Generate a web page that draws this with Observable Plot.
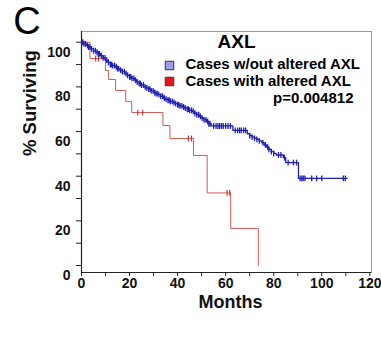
<!DOCTYPE html>
<html>
<head>
<meta charset="utf-8">
<script src="https://cdn.jsdelivr.net/npm/d3@7"></script>
<script src="https://cdn.jsdelivr.net/npm/@observablehq/plot@0.6"></script>
<style>
  html, body { margin: 0; padding: 0; background: #fff; }
  #chart svg { display: block; font-family: "Liberation Sans", Arial, Helvetica, sans-serif; }
</style>
</head>
<body>
<div id="chart"></div>
<script>
// ---- Data ----
const panelLetter = "C";
const geneName = "AXL";
const seriesNames = ["Cases w/out altered AXL", "Cases with altered AXL"];
const pValueText = "p=0.004812";
const xTitle = "Months";
const yTitle = "% Surviving";

// Cases without altered AXL (blue) — Kaplan–Meier step points
const blueMonths = [0, 1, 2, 3, 4, 5, 6, 7, 8, 9, 10, 11, 12, 13, 14, 15, 16, 17, 18, 19, 20, 21, 22, 23, 24, 25, 26, 27, 28, 29, 30, 31, 32, 33, 34, 35, 36, 37, 38, 39, 40, 41, 42, 43, 44, 45, 46, 47, 48, 49, 50, 51, 52, 53, 54, 63, 69, 70, 71, 72, 73, 74, 75, 76, 77, 78, 79, 80, 81, 84, 85, 90.3, 110.5];
const blueSurv   = [100, 99.3, 98.5, 97.8, 97, 96.2, 95.5, 94.8, 94, 93, 92, 91, 90, 89.5, 89, 88.2, 87.5, 86.8, 86, 85.2, 84.5, 83.8, 83, 82.2, 81.5, 80.8, 80, 79.5, 79, 78.2, 77.5, 77, 76.5, 75.8, 75, 74.5, 74, 73.5, 73, 72.5, 72, 71.5, 71, 70.5, 70, 69.5, 69, 68.2, 67.5, 66.8, 66, 65.2, 64.5, 63.5, 62.5, 60.5, 59, 58.2, 57.5, 57, 56.5, 55.8, 55, 54, 53, 52, 51, 50.2, 49.5, 48.3, 46.1, 39, 39];
const blueCensored = [0.5, 1, 1.7, 2.5, 3, 3.5, 4.2, 5, 5.8, 6.5, 7, 7.5, 8.3, 9, 9.8, 10.5, 11.2, 12, 12.5, 13, 13.8, 14.5, 15, 15.5, 16.3, 17, 17.8, 18.5, 19.2, 20, 20.5, 21, 21.8, 22.5, 23.2, 24, 24.5, 25, 25.8, 26.5, 27.2, 28, 28.5, 29, 29.8, 30.5, 31, 31.5, 32.2, 33, 33.8, 34.5, 35.2, 36, 36.5, 37, 37.8, 38.5, 39.2, 40, 40.5, 41, 41.8, 42.5, 43.2, 44, 44.5, 45, 45.8, 46.5, 47.2, 48, 48.8, 49.5, 50.2, 51, 51.8, 52.5, 53, 53.5, 55, 56, 56.8, 57.5, 58.3, 59, 60, 61, 62, 64, 65, 65.8, 66.5, 67.5, 68.3, 70, 71, 72, 73, 74, 75.5, 76.5, 77.5, 78, 79, 80, 82, 83, 84.5, 86, 88.2, 89.5, 91, 91.7, 92.3, 93, 95.8, 97.9, 100, 109, 109.8];

// Cases with altered AXL (red)
const redMonths = [0, 3.5, 10, 11.3, 14.2, 18.4, 20.9, 33.9, 36.8, 46.6, 52.3, 62.1, 73.6];
const redSurv   = [100, 92.7, 87.3, 83.3, 78.4, 73.4, 68.5, 62.7, 56.9, 49.3, 32.5, 16.6, 0];
const redCensored = [5.9, 7.1, 23.4, 25.5, 44.5, 45.8, 60.6, 61.7];

// Axis ticks
const xLabelTicks = [0, 20, 40, 60, 80, 100, 120];
const xAllTicks = [0, 10, 20, 30, 40, 50, 60, 70, 80, 90, 100, 110, 120];
const yLabelTicks = [0, 20, 40, 60, 80, 100];
const yAllTicks = [0, 10, 20, 30, 40, 50, 60, 70, 80, 90, 100];
const xDomain = [0, 120.7];
const yDomain = [-3.13, 104.8];

// ---- Build tables ----
const blueCurve = blueMonths.map((m, i) => ({m, s: blueSurv[i]}));
const redCurve = redMonths.map((m, i) => ({m, s: redSurv[i]}));
const stepAt = (months, surv) => t => surv[d3.bisectRight(months, t) - 1];
const blueAt = stepAt(blueMonths, blueSurv);
const redAt = stepAt(redMonths, redSurv);
const blueCens = blueCensored.map(m => ({m, s: blueAt(m)}));
const redCens = redCensored.map(m => ({m, s: redAt(m)}));

// Short vertical censor tick symbol
const censorTick = {
  draw(context, size) {
    const h = Math.sqrt(size) * 0.55;
    context.moveTo(0, -h);
    context.lineTo(0, h);
  }
};

const blue = "#1f1fb2";
const redLine = "#cf5a55";
const redTick = "#c42a2a";
const font = "Liberation Sans, Arial, Helvetica, sans-serif";

const chart = Plot.plot({
  width: 381,
  height: 342,
  marginLeft: 81,
  marginRight: 10,
  marginTop: 31,
  marginBottom: 70,
  style: {fontFamily: font, color: "#000", background: "#fff"},
  x: {domain: xDomain, label: null},
  y: {domain: yDomain, label: null},
  marks: [
    Plot.frame({stroke: "#9a9a9a", strokeWidth: 1}),
    Plot.ruleX([xDomain[0]], {stroke: "#222", strokeWidth: 1.2}),
    Plot.ruleY([yDomain[0]], {stroke: "#222", strokeWidth: 1.2}),
    // Y axis: ticks every 10, labels every 20
    Plot.axisY({ticks: yAllTicks, tickSize: 5, text: null, label: null, stroke: "#222"}),
    Plot.axisY({ticks: yLabelTicks, tickSize: 0, tickPadding: 11, dy: 10, fontSize: 14, fontWeight: "bold", label: null, fill: "#111"}),
    // X axis
    Plot.axisX({ticks: xAllTicks, tickSize: 4, text: null, label: null, stroke: "#222"}),
    Plot.axisX({ticks: xLabelTicks, tickSize: 0, tickPadding: 6, fontSize: 14, fontWeight: "bold", label: null, fill: "#111"}),
    // Curves
    Plot.line(redCurve, {x: "m", y: "s", curve: "step-after", stroke: redLine, strokeWidth: 1}),
    Plot.dot(redCens, {x: "m", y: "s", symbol: censorTick, r: 3, stroke: redTick, strokeWidth: 1.1}),
    Plot.line(blueCurve, {x: "m", y: "s", curve: "step-after", stroke: blue, strokeWidth: 1.3}),
    Plot.dot(blueCens, {x: "m", y: "s", symbol: censorTick, r: 3, stroke: blue, strokeWidth: 1.3}),
    // Axis titles
    Plot.text([xTitle], {frameAnchor: "bottom", dx: 4, dy: 30, fontSize: 18, fontWeight: "bold", lineAnchor: "middle", fill: "#111"}),
    Plot.text([yTitle], {frameAnchor: "left", dx: -51, dy: 4, rotate: -90, fontSize: 18.5, fontWeight: "bold", lineAnchor: "middle", fill: "#111"}),
    // Panel letter
    Plot.text([panelLetter], {frameAnchor: "top-left", dx: -54.5, dy: -24, fontSize: 38, textAnchor: "middle", lineAnchor: "top", fill: "#000"}),
    // Legend
    Plot.text([geneName], {frameAnchor: "top-left", dx: 155, dy: 10.5, fontSize: 19, fontWeight: "bold", textAnchor: "middle", lineAnchor: "middle", fill: "#000"}),
    Plot.dot([seriesNames[0]], {frameAnchor: "top-left", dx: 88, dy: 34, symbol: "square", r: 4.8, fill: "#9c9cf0", stroke: "#333", strokeWidth: 1}),
    Plot.dot([seriesNames[1]], {frameAnchor: "top-left", dx: 88, dy: 50, symbol: "square", r: 4.8, fill: "#e5161c", stroke: "#333", strokeWidth: 1}),
    Plot.text([seriesNames[0]], {frameAnchor: "top-left", dx: 104, dy: 32.5, fontSize: 15, fontWeight: "bold", textAnchor: "start", lineAnchor: "middle", fill: "#000"}),
    Plot.text([seriesNames[1]], {frameAnchor: "top-left", dx: 104, dy: 49.5, fontSize: 15, fontWeight: "bold", textAnchor: "start", lineAnchor: "middle", fill: "#000"}),
    Plot.text([pValueText], {frameAnchor: "top-left", dx: 272, dy: 66.5, fontSize: 15, fontWeight: "bold", textAnchor: "end", lineAnchor: "middle", fill: "#000"})
  ]
});
document.getElementById("chart").append(chart);
</script>
</body>
</html>
